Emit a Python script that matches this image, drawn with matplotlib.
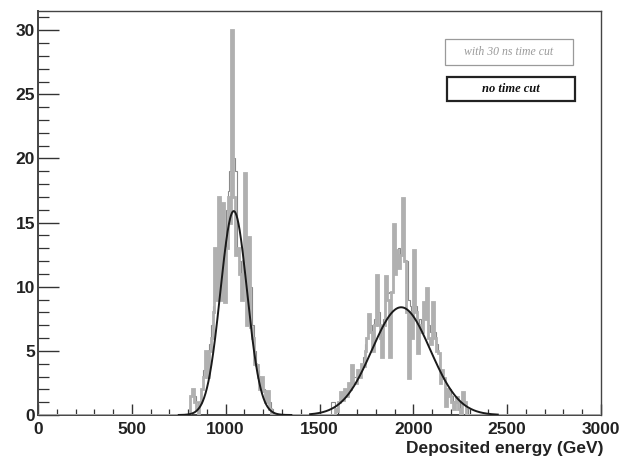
import numpy as np
import matplotlib
matplotlib.use("Agg")
import matplotlib.pyplot as plt
from matplotlib.patches import Rectangle
from matplotlib.ticker import MultipleLocator

# ---------------- data ----------------
bin_width = 10  # GeV
x_range = [0, 3000]

# Peak 1 (left edges start at 800 GeV)
peak1_start = 800
peak1_cut = [0, 1.5, 2, 1, 0.5, 0, 1, 2, 3, 5,
             3, 5, 6, 8, 13, 9, 17, 9, 16.5, 8.8,
             13, 17, 15, 30, 17, 12.5, 13, 11, 9, 12,
             18.9, 7, 13.9, 6.9, 6, 4, 3.9, 3, 2, 3,
             1.9, 1, 1.9, 0.5, 0, 0]
peak1_nocut = [0, 1.5, 2, 1.5, 1, 0.5, 1, 2, 3.5, 5,
               4, 5.5, 7, 8.5, 13, 11, 17, 12, 16.5, 13,
               16, 17.5, 19, 30, 20, 19, 12.5, 12, 11, 13,
               18.9, 12, 13.9, 10, 7, 5, 4, 3.5, 3, 3,
               2, 1.5, 1.9, 1, 0.5, 0]

# Peak 2 (left edges start at 1560 GeV)
peak2_start = 1560
peak2_cut = [0, 0, 0.5, 0.3, 1, 1.8, 1.2, 2, 1.5, 2.5,
             2, 3.9, 2.5, 2.5, 3.5, 3, 4, 3.8, 5, 6,
             7.9, 6.5, 5, 7, 10.9, 7, 6, 4.5, 7, 10.8,
             9, 4.5, 9.6, 14.9, 11, 12.9, 11.5, 12.5, 16.9, 12,
             8, 2.9, 8, 6, 12.9, 8, 4.8, 7, 6.5, 8.8,
             7.5, 9.9, 6, 5.5, 8.8, 6, 5, 4.8, 2.5, 3.5,
             2.9, 0.7, 2, 1.5, 1, 0.5, 1, 1.4, 0.5, 0,
             1.8, 1, 0, 0]
peak2_nocut = [1, 1, 0.5, 0.5, 1, 1.8, 1.5, 2, 2, 2.5,
               2.5, 3.9, 3, 3, 3.5, 3.5, 4, 4.5, 5.5, 6,
               7.9, 7, 6.5, 7.5, 10.9, 8, 7, 6, 7.5, 10.8,
               9.5, 9.6, 9.6, 14.9, 12.5, 12.9, 13, 12.5, 16.9, 12.1,
               12, 9, 8.5, 7, 12.9, 8.5, 7, 7.5, 7, 8.8,
               8, 9.9, 7, 6.5, 8.8, 6.5, 5.5, 4.8, 3.5, 3.5,
               2.9, 2, 2, 2, 1.5, 1, 1, 1.4, 1, 0.5,
               1.8, 1, 0.5, 0]

# Gaussian fits
fit_amp = [15.9, 8.4]
fit_mean = [1043, 1935]
fit_sigma = [71, 155]
fit_lo = [750, 1450]
fit_hi = [1350, 2450]

legend_labels = ["with 30 ns time cut", "no time cut"]
x_label = "Deposited energy (GeV)"

# ---------------- build histograms ----------------
edges = np.arange(x_range[0], x_range[1] + bin_width, bin_width)
nbins = len(edges) - 1
h_cut = np.zeros(nbins)
h_nocut = np.zeros(nbins)
for start, vc, vn in [(peak1_start, peak1_cut, peak1_nocut),
                      (peak2_start, peak2_cut, peak2_nocut)]:
    i0 = int((start - x_range[0]) // bin_width)
    h_cut[i0:i0 + len(vc)] = vc
    h_nocut[i0:i0 + len(vn)] = vn

# ---------------- plot ----------------
W, H = 620, 462
fig = plt.figure(figsize=(W / 100, H / 100), dpi=100)
ax = fig.add_axes([38 / W, 47 / H, 563 / W, 404 / H])

ax.stairs(h_nocut, edges, color="#8a8a8a", lw=0.8, zorder=2)
ax.stairs(h_cut, edges, color="#b0b0b0", lw=2.0, zorder=3)

for a, m, s, lo, hi in zip(fit_amp, fit_mean, fit_sigma, fit_lo, fit_hi):
    xx = np.linspace(lo, hi, 400)
    ax.plot(xx, a * np.exp(-0.5 * ((xx - m) / s) ** 2), color="#1a1a1a",
            lw=1.4, zorder=4)

ax.set_xlim(*x_range)
ax.set_ylim(0, 31.5)
ax.xaxis.set_major_locator(MultipleLocator(500))
ax.xaxis.set_minor_locator(MultipleLocator(100))
ax.yaxis.set_major_locator(MultipleLocator(5))
ax.yaxis.set_minor_locator(MultipleLocator(1))
ax.tick_params(axis="both", which="both", direction="in", top=False,
               right=False, color="#333333")
ax.tick_params(axis="x", which="major", length=8, width=1, pad=5)
ax.tick_params(axis="x", which="minor", length=4, width=0.9)
ax.tick_params(axis="y", which="major", length=15, width=1, pad=2)
ax.tick_params(axis="y", which="minor", length=8, width=0.9)
for lab in ax.get_xticklabels() + ax.get_yticklabels():
    lab.set_fontfamily("Liberation Sans")
    lab.set_fontweight("bold")
    lab.set_fontsize(12.5)
    lab.set_color("#222222")
for sp in ax.spines.values():
    sp.set_color("#444444")
    sp.set_linewidth(1.0)
ax.spines["left"].set_linewidth(1.4)
ax.spines["bottom"].set_linewidth(1.4)

fig.text(603 / W, 1 - 448 / H, x_label, ha="right", va="center",
         fontsize=12.5, fontweight="bold", family="Liberation Sans",
         color="#222222")

# legend boxes (figure pixel coords)
def box(x0, y0, x1, y1, ec, lw):
    fig.patches.append(Rectangle((x0 / W, 1 - y1 / H), (x1 - x0) / W,
                                 (y1 - y0) / H, transform=fig.transFigure,
                                 fill=True, fc="white", ec=ec, lw=lw,
                                 zorder=10))

box(445, 39, 573, 65, "#9a9a9a", 0.9)
fig.text(509 / W, 1 - 52 / H, legend_labels[0], ha="center", va="center",
         fontsize=8.5, style="italic", family="Liberation Serif",
         color="#9a9a9a", zorder=11)
box(447, 77, 575, 101, "#222222", 1.6)
fig.text(511 / W, 1 - 89 / H, legend_labels[1], ha="center", va="center",
         fontsize=9, style="italic", fontweight="bold",
         family="Liberation Serif", color="#111111", zorder=11)

fig.savefig("out.png", dpi=100)
